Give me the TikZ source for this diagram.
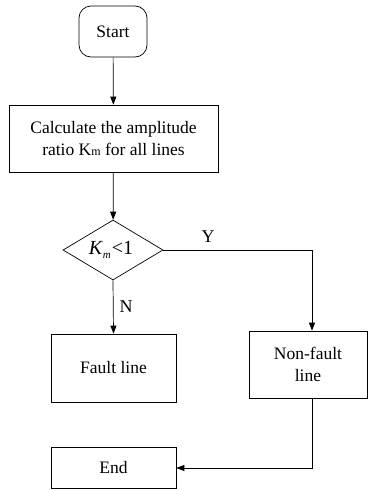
\documentclass[tikz,border=0pt]{standalone}
\usepackage{fontspec}
\setmainfont{Liberation Serif}
\usetikzlibrary{arrows.meta,shapes.geometric}
\begin{document}
\begin{tikzpicture}[x=1pt,y=-1pt,
  every node/.style={font=\fontsize{17.5}{20}\selectfont, inner sep=0pt},
  box/.style={draw, line width=0.7pt, align=center},
  arr/.style={draw, line width=0.7pt, -{Triangle[length=8pt,width=6pt]}},
  lbl/.style={font=\fontsize{18}{18}\selectfont}]
\useasboundingbox (0,0) rectangle (367,490);
\node[box, rounded corners=12pt, minimum width=68pt, minimum height=51pt] (start) at (113,31.5) {Start};
\node[box, minimum width=209pt, minimum height=67pt] (calc) at (113.5,138.5) {Calculate the amplitude\\[2pt]ratio K{\fontsize{12}{12}\selectfont m} for all lines};
\node[draw, line width=0.7pt, diamond, aspect=1.67, minimum width=100pt, minimum height=60pt] (dec) at (113,250) {};
\node at (111,250) {\fontsize{20}{20}\selectfont\textit{K}\raisebox{-4pt}{\fontsize{11}{11}\selectfont\textit{m}}\kern1pt<1};
\node[box, minimum width=125pt, minimum height=68pt] (fault) at (113.5,368) {Fault line};
\node[box, minimum width=118pt, minimum height=67pt] (non) at (308,364.5) {Non-fault\\[2pt]line};
\node[box, minimum width=125pt, minimum height=41pt] (end) at (113.5,467.5) {End};
\coordinate (c1) at (312,250);
\coordinate (c2) at (312,468);
\draw[arr] (start) -- (calc);
\draw[arr] (calc) -- (dec);
\draw[arr] (dec.south) -- (fault.north);
\draw[arr] (dec.east) -- (c1) -- (c1 |- non.north);
\draw[arr] (c1 |- non.south) -- (c2) -- (end.east |- c2);
\node[lbl] (y) at (208,237) {Y};
\node[lbl] (n) at (126,307) {N};
\end{tikzpicture}
\end{document}
